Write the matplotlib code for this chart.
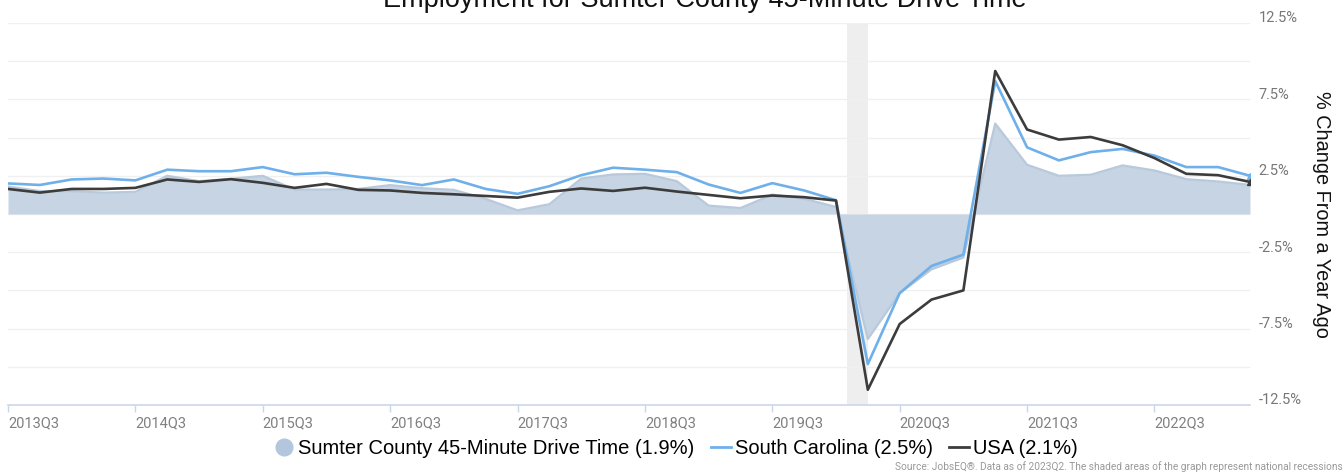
import numpy as np
import matplotlib
matplotlib.use("Agg")
from matplotlib import pyplot as plt
from matplotlib.lines import Line2D
from matplotlib.transforms import ScaledTranslation

# datos (variacion % respecto al mismo trimestre del año anterior)
quarters = [f"{y}Q{q}" for y in range(2013, 2024) for q in range(1, 5)][2:42]

sumter = [1.8, 1.5, 1.5, 1.4, 1.45, 2.5, 2.15, 2.3, 2.5, 1.6,
          1.6, 1.64, 1.89, 1.69, 1.58, 0.99, 0.24, 0.64, 2.32, 2.59,
          2.63, 2.15, 0.55, 0.39, 1.27, 1.0, 0.46, -8.18, -5.18, -3.62,
          -2.85, 5.92, 3.22, 2.5, 2.57, 3.18, 2.85, 2.28, 2.13, 1.9]

south_carolina = [2.0, 1.9, 2.26, 2.32, 2.2, 2.9, 2.8, 2.8, 3.07, 2.6,
                  2.7, 2.43, 2.2, 1.89, 2.26, 1.64, 1.32, 1.82, 2.54, 3.03,
                  2.9, 2.74, 1.93, 1.38, 2.02, 1.54, 0.9, -9.82, -5.18, -3.4,
                  -2.66, 8.7, 4.36, 3.51, 4.05, 4.26, 3.82, 3.07, 3.07, 2.5]

usa = [1.64, 1.4, 1.64, 1.64, 1.71, 2.26, 2.1, 2.28, 2.04, 1.71,
       1.97, 1.58, 1.54, 1.38, 1.29, 1.18, 1.07, 1.45, 1.67, 1.51,
       1.72, 1.47, 1.25, 1.03, 1.21, 1.1, 0.88, -11.5, -7.2, -5.6,
       -5.0, 9.36, 5.53, 4.87, 5.04, 4.5, 3.66, 2.63, 2.54, 2.1]

recession = (26.34, 27.0)  # feb 2020 - abr 2020 en unidades de trimestre

labels = ["Sumter County 45-Minute Drive Time (1.9%)", "South Carolina (2.5%)", "USA (2.1%)"]
title = "Employment for Sumter County 45-Minute Drive Time"
source = "Source: JobsEQ®. Data as of 2023Q2. The shaded areas of the graph represent national recessions"

W, H = 1344, 475
fig = plt.figure(figsize=(W / 100, H / 100), dpi=100)
ax = fig.add_axes([8 / W, 1 - 405 / H, (1250 - 8) / W, (405 - 23) / H])

x = np.arange(len(quarters))
tickfont = ["Roboto", "DejaVu Sans"]

#==============================================================
# recesion, area y lineas
#==============================================================
ax.axvspan(recession[0], recession[1], color="#eeeeee", zorder=0.5, lw=0)
ax.fill_between(x, 0, sumter, color="#c6d4e3", lw=0, zorder=2)
ax.plot(x, sumter, color="#b9c9dc", lw=1.6, zorder=2.1)
ax.plot(x, south_carolina, color="#6fb0ea", lw=1.9, zorder=3)
ax.plot(x, usa, color="#3c3c3c", lw=1.9, zorder=4)
ax.plot(x[-1], south_carolina[-1], marker="^", ms=4, color="#6fb0ea", zorder=3)
ax.plot(x[-1], usa[-1], marker="^", ms=4, color="#3c3c3c", zorder=4)

ax.set_xlim(0, len(quarters) - 1)
ax.set_ylim(-12.5, 12.5)

# eje y a la derecha, rejilla cada 2.5 pero etiquetas solo en algunos
yt = np.arange(-12.5, 12.6, 2.5)
ax.set_yticks(yt)
ax.set_yticklabels([f"{v:.1f}%" if abs(v) in (2.5, 7.5, 12.5) else "" for v in yt])
ax.yaxis.tick_right()
ax.tick_params(axis="y", length=0, pad=6, labelsize=10.5, labelcolor="#777777")
for lab in ax.get_yticklabels():
    lab.set_family(tickfont)
    lab.set_transform(lab.get_transform() + ScaledTranslation(0, 6 / 100, fig.dpi_scale_trans))
ax.grid(axis="y", color="#f0f0f0", lw=1, zorder=0)
ax.set_axisbelow(True)

# eje x
xt = np.arange(0, len(quarters), 4)
ax.set_xticks(xt)
ax.set_xticklabels([quarters[i] for i in xt], ha="left")
ax.tick_params(axis="x", length=5, width=1, color="#ccd6eb", pad=3,
               labelsize=10.5, labelcolor="#808080")
for lab in ax.get_xticklabels():
    lab.set_family(tickfont)

for s in ["top", "left", "right"]:
    ax.spines[s].set_visible(False)
ax.spines["bottom"].set_color("#ccd6eb")
ax.spines["bottom"].set_linewidth(1.2)

#==============================================================
# textos
#==============================================================
fig.text(705 / W, 1 - 7 / H, title, ha="center", va="baseline", fontsize=19.5,
         family="Liberation Sans", color="#111111")
fig.text(1322 / W, 1 - 214 / H, "% Change From a Year Ago", rotation=-90,
         ha="center", va="center", fontsize=14.3, family="Liberation Sans", color="#111111")
fig.text(1 - 1 / W, 1 - 467 / H, source, ha="right", va="center", fontsize=7.3,
         family=tickfont, color="#999999")

handles = [Line2D([], [], ls="none", marker="o", ms=12, color="#b3c6dd"),
           Line2D([], [], color="#6fb0ea", lw=2),
           Line2D([], [], color="#3c3c3c", lw=2)]
fig.legend(handles, labels, loc="center", bbox_to_anchor=(676 / W, 1 - 449 / H), ncol=3,
           frameon=False, handlelength=1.0, handletextpad=0.2,
           columnspacing=0.8, prop={"family": "Liberation Sans", "size": 14.5})

fig.savefig("out.png", dpi=100)
